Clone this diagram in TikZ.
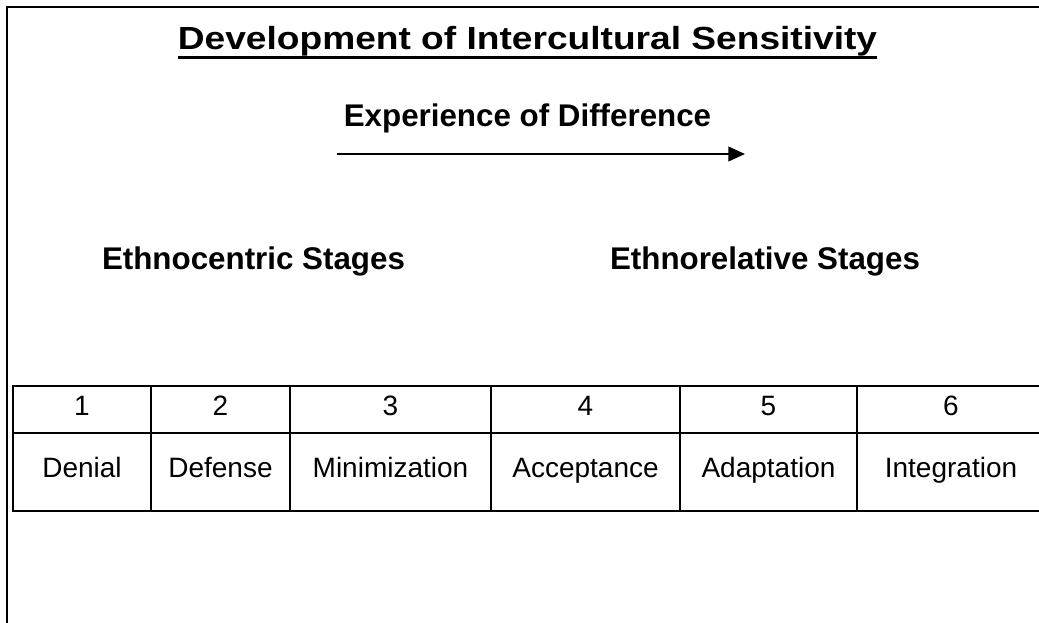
\documentclass[tikz,border=0pt]{standalone}
\usepackage{fontspec}
\setmainfont{Liberation Sans}
\usetikzlibrary{positioning, arrows.meta}

\begin{document}
\begin{tikzpicture}[x=0.75pt, y=-0.75pt, >={Triangle[length=12.5pt, width=11pt]},
    heading/.style={inner sep=0pt, anchor=base, font=\fontsize{23.5}{28}\selectfont\bfseries},
    cell/.style={draw, line width=1.6pt, inner sep=0pt, text height=0.85em, text depth=0pt,
                 font=\fontsize{21}{25}\selectfont}]
      \useasboundingbox (0,0) rectangle (1039,623);
      \draw[line width=1.6pt] (7,623) -- (7,7) -- (1045,7);

      \node[heading, font=\fontsize{24}{28}\selectfont\bfseries] (title) at (527.5,50)
            {\scalebox{1.16}[1]{Development of Intercultural Sensitivity}};
      \draw[line width=2.25pt] ([yshift=-6pt]title.base west) -- ([yshift=-6pt]title.base east);

      \node[heading] (experience) at (527.5,127) {Experience of Difference};
      \coordinate (expStart) at (337,154);
      \coordinate (expEnd) at (745,154);
      \draw[->, line width=1.5pt] (expStart) -- (expEnd);

      \node[heading] (ethnocentric) at (253.5,270) {Ethnocentric Stages};
      \node[heading] (ethnorelative) at (765,270) {Ethnorelative Stages};

      % stage table: left edge / right edge / number / name
      \foreach \l/\r/\n/\s in {13/151/1/Denial, 151/290/2/Defense, 290/491/3/Minimization,
                               491/680/4/Acceptance, 680/857/5/Adaptation, 857/1045/6/Integration} {
        \node[cell, minimum width={(\r-\l)*0.75pt}, minimum height={47*0.75pt}]
              (num\n) at ({(\l+\r)/2},409.5) {\n};
        \node[cell, minimum width={(\r-\l)*0.75pt}, minimum height={78*0.75pt}]
              (stage\n) at ({(\l+\r)/2},472) {\s};
      }
    \end{tikzpicture}
\end{document}
